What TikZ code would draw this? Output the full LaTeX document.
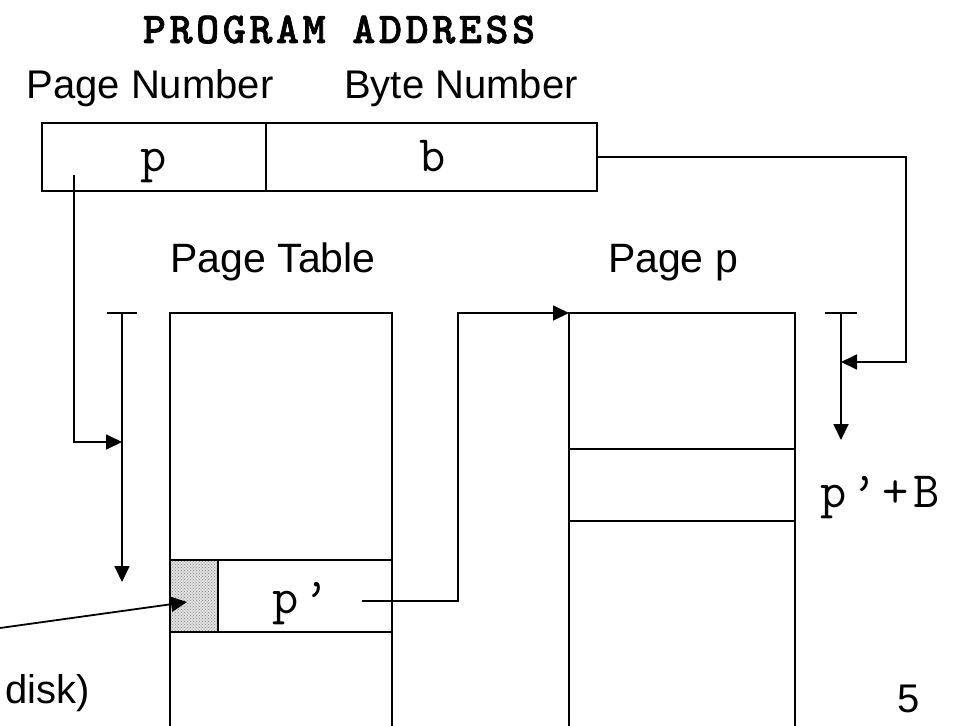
\documentclass[tikz,border=0pt]{standalone}
\usepackage{fontspec}
\setmainfont{Liberation Sans}
\newfontfamily\cour{Latin Modern Mono}[LetterSpace=9]
\newfontfamily\courb{lmmonolt10-bold}[Extension=.otf,LetterSpace=8,FakeBold=1.5]
\usetikzlibrary{arrows.meta,patterns}
\begin{document}
\begin{tikzpicture}[x=1pt,y=-1pt,
  ln/.style={line width=1.8pt},
  arr/.style={ln,-{Triangle[length=16pt,width=15pt]}},
  cell/.style={draw,line width=1.8pt,inner sep=0pt,outer sep=0pt,anchor=north west},
  sans/.style={font=\fontsize{41}{43}\selectfont,anchor=base,inner sep=0pt},
  mono/.style={font=\cour\fontsize{51}{53}\selectfont,anchor=base,inner sep=0pt}]
\useasboundingbox (0,0) rectangle (955,725);
\clip (0,0) rectangle (955,725);
% boxes
\node[cell,minimum width=224,minimum height=68] (pbox) at (42,123) {};
\node[cell,minimum width=331,minimum height=68] (bbox) at (266,123) {};
\node[cell,minimum width=222,minimum height=420] (ptab) at (170,313) {};
\node[cell,minimum width=48,minimum height=72,preaction={fill=gray!25},pattern=crosshatch dots,pattern color=gray!90] (shade) at (170,560) {};
\node[cell,minimum width=174,minimum height=72] (pent) at (218,560) {};
\node[cell,minimum width=226,minimum height=420] (pagep) at (569,313) {};
\node[cell,minimum width=226,minimum height=72] (prow) at (569,449) {};
% texts
\node[font=\courb\fontsize{44}{46}\selectfont,anchor=base,inner sep=0pt] (title) at (339,43) {PROGRAM ADDRESS};
\node[sans,font=\fontsize{40}{42}\selectfont] (lpn) at (150,98) {Page Number};
\node[sans,font=\fontsize{40}{42}\selectfont] (lbn) at (461,98) {Byte Number};
\node[sans] (lpt) at (273,272) {Page Table};
\node[sans] (lpp) at (673,272) {Page p};
\node[mono] (tp) at (154,171) {p};
\node[mono] (tb) at (433,171) {b};
\node[mono] (tpp) at (301,613) {p’};
\node[mono] (tpb) at (880,507) {p’+B};
\node[sans,font=\fontsize{40}{42}\selectfont] (five) at (909,712) {5};
\node[sans,font=\fontsize{40}{42}\selectfont,anchor=base east] (disk) at (90,703) {disk)};
% coordinates
\coordinate (ps) at (74,175);
\coordinate (lvt) at (122,313);
\coordinate (lvm) at (122,442);
\coordinate (lvb) at (122,582);
\coordinate (pes) at (362,601);
\coordinate (rvt) at (841,313);
\coordinate (rvm) at (841,362);
\coordinate (rvb) at (841,440);
\coordinate (ds) at (0,628);
\coordinate (shtip) at (187,602);
% connectors
\draw[ln] ([xshift=-15pt]lvt) -- ([xshift=15pt]lvt);
\draw[arr] (lvt) -- (lvb);
\draw[arr] (ps) |- (lvm);
\draw[arr] (pes) -- (458,601) -- (458,313) -- (pagep.north west);
\draw[ln] ([xshift=-16pt]rvt) -- ([xshift=16pt]rvt);
\draw[arr] (rvt) -- (rvb);
\draw[arr] (bbox.east) -- (906,157) -- (906,362) -- (rvm);
\draw[arr] (ds) -- (shtip);
\end{tikzpicture}
\end{document}
